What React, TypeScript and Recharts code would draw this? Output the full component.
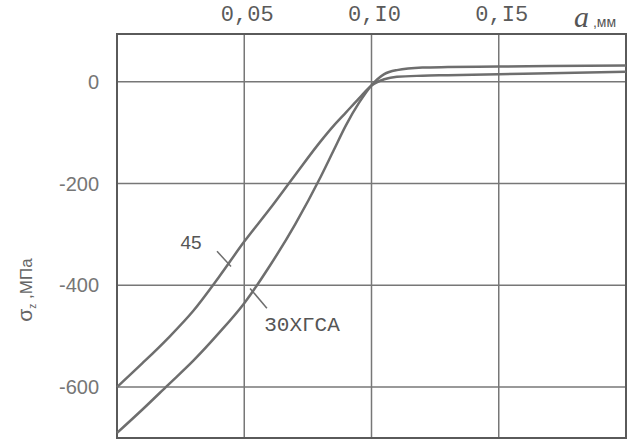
import {
  CartesianGrid,
  Line,
  LineChart,
  ReferenceArea,
  ReferenceDot,
  ReferenceLine,
  XAxis,
  YAxis,
} from "recharts";

// depth a, mm
const depth = [
  0, 0.01, 0.02, 0.03, 0.04, 0.05, 0.06, 0.07, 0.08, 0.085, 0.09, 0.095, 0.1,
  0.105, 0.11, 0.12, 0.13, 0.15, 0.17, 0.2,
];
// residual stress, MPa
const steel45 = [
  -600, -553, -504, -450, -384, -314, -250, -183, -117, -87, -60, -33, -7, 5,
  10, 12, 13, 15, 17, 20,
];
const steel30 = [
  -690, -644, -596, -548, -494, -435, -362, -280, -187, -136, -85, -42, -7, 15,
  23, 28, 29, 30, 31, 32,
];
const xTicks = [0.05, 0.1, 0.15];
const xTickLabels = ["0,05", "0,I0", "0,I5"];
const yTicks = [0, -200, -400, -600];

const data = depth.map((a, i) => ({ a, s45: steel45[i], s30: steel30[i] }));

const ink = "#6e6e6e";
const mono = "'Liberation Mono', monospace";
const sans = "'Liberation Sans', Arial, sans-serif";

function TopTick({ x, y, payload }: any) {
  const i = xTicks.indexOf(payload.value);
  return (
    <text x={x + 3} y={y - 5} textAnchor="middle" fontFamily={mono} fontSize={22} fill="#5a5a5a">
      {xTickLabels[i]}
    </text>
  );
}

function UnitLabel() {
  return (
    <text x={574} y={27} fontFamily="'Liberation Serif', serif" fill="#555">
      <tspan fontSize={30} fontStyle="italic">a</tspan>
      <tspan fontSize={14} fontFamily={sans}> ,мм</tspan>
    </text>
  );
}

function StressLabel() {
  return (
    <text
      x={0}
      y={0}
      transform="translate(32 290) rotate(-90)"
      textAnchor="middle"
      fontFamily={sans}
      fontSize={17}
      fill="#666"
    >
      <tspan fontSize={21}>σ</tspan>
      <tspan fontSize={10} dy={4}>z</tspan>
      <tspan dy={-4}> ,МПа</tspan>
    </text>
  );
}

function CurveName({ viewBox, value, size }: any) {
  return (
    <text
      x={viewBox.cx ?? viewBox.x}
      y={(viewBox.cy ?? viewBox.y) + 7}
      textAnchor="middle"
      fontFamily={size > 19 ? mono : sans}
      fontSize={size}
      fill="#555"
    >
      {value}
    </text>
  );
}

export default function App() {
  return (
    <div style={{ position: "absolute", left: 0, top: 0, background: "#fff" }}>
      <LineChart
        width={634}
        height={439}
        data={data}
        margin={{ top: 4, right: 8, bottom: 1, left: 57 }}
      >
        <CartesianGrid
          stroke="#777"
          strokeWidth={1.5}
          horizontalValues={yTicks}
          verticalValues={xTicks}
        />
        <XAxis
          dataKey="a"
          type="number"
          orientation="top"
          domain={[0, 0.2]}
          ticks={xTicks}
          height={30}
          axisLine={false}
          tickLine={false}
          tick={<TopTick />}
          label={<UnitLabel />}
        />
        <YAxis
          type="number"
          domain={[-700, 94]}
          ticks={yTicks}
          width={60}
          axisLine={false}
          tickLine={false}
          tickMargin={12}
          tick={{ fontFamily: sans, fontSize: 20, fill: "#767676" }}
          label={<StressLabel />}
        />
        <ReferenceArea
          x1={0}
          x2={0.2}
          y1={-700}
          y2={94}
          fill="none"
          stroke="#5a5a5a"
          strokeWidth={2}
        />
        <Line
          dataKey="s45"
          type="monotone"
          stroke={ink}
          strokeWidth={2.5}
          dot={false}
          isAnimationActive={false}
        />
        <Line
          dataKey="s30"
          type="monotone"
          stroke={ink}
          strokeWidth={2.5}
          dot={false}
          isAnimationActive={false}
        />
        <ReferenceLine
          segment={[
            { x: 0.0393, y: -333 },
            { x: 0.0448, y: -363 },
          ]}
          stroke={ink}
          strokeWidth={1.5}
        />
        <ReferenceLine
          segment={[
            { x: 0.0523, y: -406 },
            { x: 0.0589, y: -445 },
          ]}
          stroke={ink}
          strokeWidth={1.5}
        />
        <ReferenceDot
          x={0.0291}
          y={-314}
          r={0}
          label={<CurveName value="45" size={19} />}
        />
        <ReferenceDot
          x={0.0727}
          y={-476}
          r={0}
          label={<CurveName value="30ХГСА" size={21} />}
        />
      </LineChart>
    </div>
  );
}
